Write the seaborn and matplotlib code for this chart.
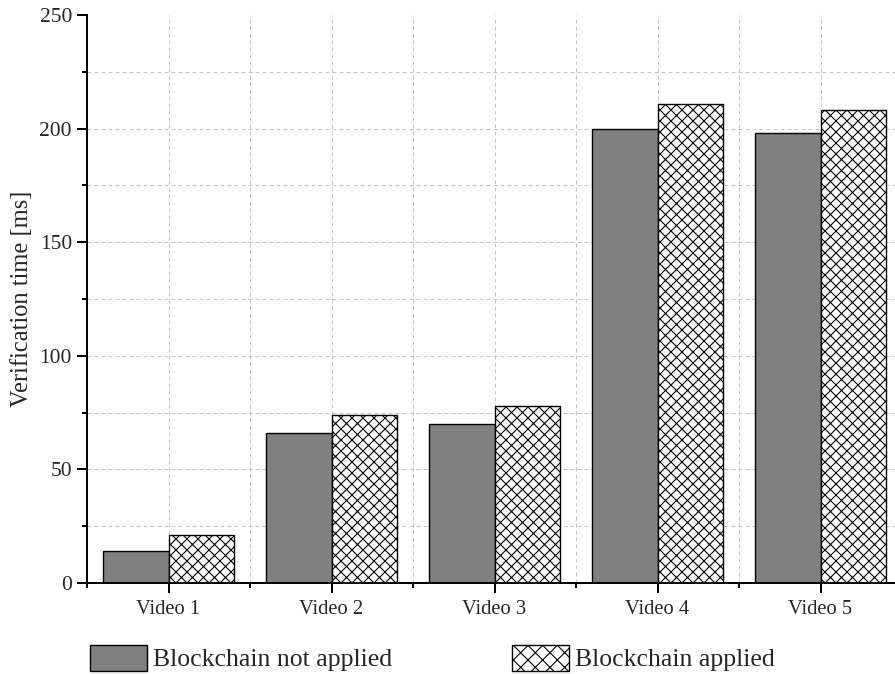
import matplotlib
matplotlib.use("Agg")
import matplotlib.pyplot as plt
from matplotlib.patches import Patch
from matplotlib.ticker import MultipleLocator
import numpy as np
import pandas as pd
import seaborn as sns

# Verification time per video, with and without blockchain
videos = ["Video 1", "Video 2", "Video 3", "Video 4", "Video 5"]
not_applied = [14, 66, 70, 200, 198]
applied = [21, 74, 78, 211, 208]
series_names = ["Blockchain not applied", "Blockchain applied"]
y_ticks = [0, 50, 100, 150, 200, 250]

DPI = 132


def pt(px):
    """Convert a length in output pixels to points."""
    return px * 72.0 / DPI


sns.set_theme(style="ticks")
plt.rcParams["font.family"] = ["Liberation Serif", "DejaVu Serif"]
plt.rcParams["hatch.linewidth"] = pt(1.1)
plt.rcParams["hatch.color"] = "black"

df = pd.DataFrame({
    "video": videos * 2,
    "time": not_applied + applied,
    "series": [series_names[0]] * len(videos) + [series_names[1]] * len(videos),
})

fig = plt.figure(figsize=(895 / DPI, 674 / DPI), dpi=DPI)
ax = fig.add_axes([87 / 895, 91 / 674, 815 / 895, 568 / 674])

sns.barplot(
    data=df, x="video", y="time", hue="series", hue_order=series_names,
    order=videos, palette=["#808080", "white"], edgecolor="black",
    linewidth=pt(1.4), errorbar=None, width=0.8, legend=False, ax=ax,
)
for bar in ax.containers[1]:
    bar.set_hatch("xxxx")

ax.set_xlim(-0.5, len(videos) - 0.5)
ax.set_ylim(y_ticks[0], y_ticks[-1])
ax.set_yticks(y_ticks)
ax.yaxis.set_minor_locator(MultipleLocator(25))
ax.xaxis.set_minor_locator(MultipleLocator(1, offset=0.5))

ax.set_xlabel("")
ax.set_ylabel("Verification time [ms]", fontsize=pt(24.5), labelpad=pt(6))

for side in ("top", "right"):
    ax.spines[side].set_visible(False)
for side in ("left", "bottom"):
    ax.spines[side].set_linewidth(pt(2))
    ax.spines[side].set_color("black")

ax.tick_params(axis="both", which="major", direction="out", length=pt(10),
               width=pt(2), color="black")
ax.tick_params(axis="both", which="minor", direction="out", length=pt(5),
               width=pt(2), color="black")
ax.tick_params(axis="y", which="major", labelsize=pt(21.5), pad=pt(5))
ax.tick_params(axis="x", which="major", labelsize=pt(20.5), pad=pt(7))

grid_kw = dict(color="#c4c4c4", linestyle=(0, (4, 3)), linewidth=pt(1.0))
ax.grid(True, which="both", axis="both", **grid_kw)
ax.set_axisbelow(True)
# no gridline along the top edge
ax.yaxis.get_major_ticks()[-1].gridline.set_visible(False)

handles = [
    Patch(facecolor="#808080", edgecolor="black", linewidth=pt(1.4)),
    Patch(facecolor="white", edgecolor="black", linewidth=pt(1.4), hatch="xxx"),
]
fig.legend(
    handles, series_names, loc="center left",
    bbox_to_anchor=(90 / 895, 1 - 658 / 674), ncol=2, frameon=False,
    fontsize=pt(25.8), borderpad=0, borderaxespad=0,
    handlelength=57 / 25.8, handleheight=30 / 25.8,
    handletextpad=6 / 25.8, columnspacing=120 / 25.8,
)

fig.savefig("out.png", dpi=DPI)
